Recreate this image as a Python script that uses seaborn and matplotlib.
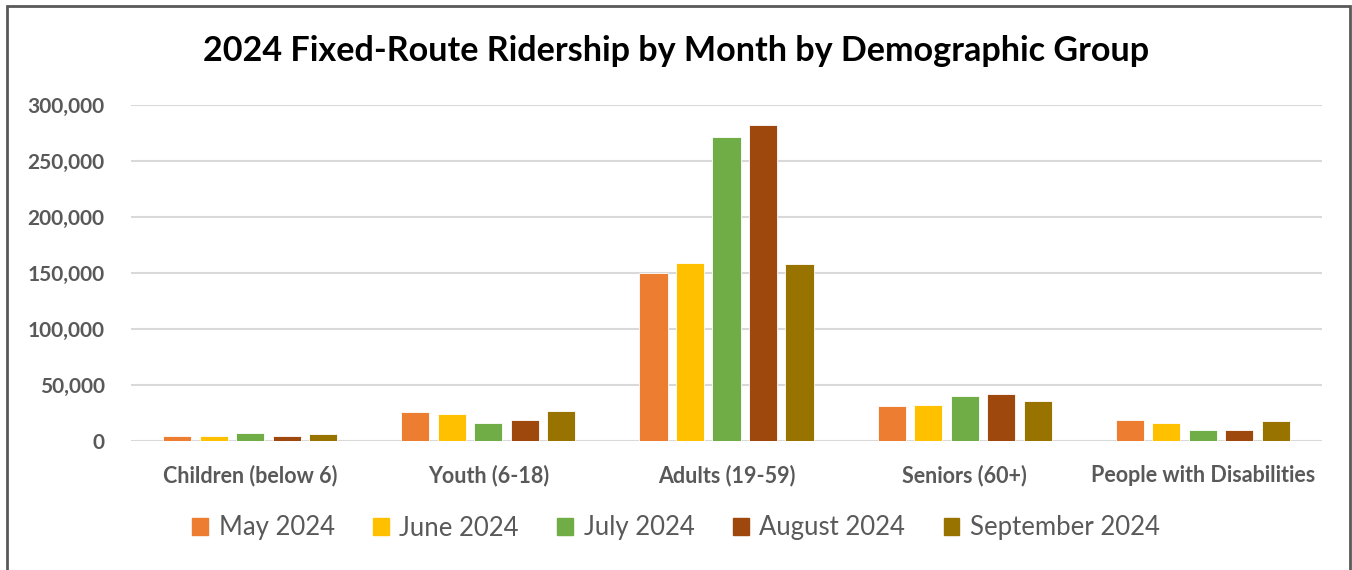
import matplotlib
matplotlib.use("Agg")
import matplotlib.pyplot as plt
import matplotlib.patches as mpatches
from matplotlib.ticker import FuncFormatter, MultipleLocator
import seaborn as sns
import pandas as pd

categories = ["Children (below 6)", "Youth (6-18)", "Adults (19-59)", "Seniors (60+)", "People with Disabilities"]
months = ["May 2024", "June 2024", "July 2024", "August 2024", "September 2024"]
may_2024 = [4700, 25600, 150000, 31300, 18800]
june_2024 = [4500, 24400, 159200, 32400, 16400]
july_2024 = [7100, 16400, 271200, 40500, 9500]
august_2024 = [4700, 18800, 281900, 41700, 9500]
september_2024 = [6000, 26500, 158000, 35700, 17600]
series = [may_2024, june_2024, july_2024, august_2024, september_2024]
colors = ["#ED7D31", "#FFC000", "#70AD47", "#9E480E", "#997300"]
title = "2024 Fixed-Route Ridership by Month by Demographic Group"

rows = []
for m, vals in zip(months, series):
    for c, v in zip(categories, vals):
        rows.append({"Group": c, "Month": m, "Riders": v})
df = pd.DataFrame(rows)

sns.set_theme(style="white")
plt.rcParams["font.family"] = ["Lato", "DejaVu Sans"]

W, H = 1352, 570
fig = plt.figure(figsize=(W / 100, H / 100), dpi=100)
ax = fig.add_axes([131 / W, 1 - 441 / H, (1322 - 131) / W, (441 - 105) / H])

sns.barplot(data=df, x="Group", y="Riders", hue="Month", order=categories,
            hue_order=months, palette=colors, width=0.766, gap=0.23,
            saturation=1, edgecolor="white", linewidth=0.6, ax=ax, legend=False)

ax.set_ylim(0, 300000)
ax.set_xlim(-0.5, 4.5)
ax.yaxis.set_major_locator(MultipleLocator(50000))
ax.yaxis.set_major_formatter(FuncFormatter(lambda v, p: f"{int(v):,}"))
ax.grid(axis="y", color="#D9D9D9", linewidth=1.5, zorder=0)
ax.set_axisbelow(True)
for s in ax.spines.values():
    s.set_visible(False)
ax.set_xlabel("")
ax.set_ylabel("")
ax.tick_params(axis="y", length=0, pad=19, labelsize=15, labelcolor="#595959")
ax.tick_params(axis="x", length=0, pad=17, labelsize=15.5, labelcolor="#595959")
for lbl in ax.get_xticklabels() + ax.get_yticklabels():
    lbl.set_fontweight("bold")

fig.text(0.5, 1 - 51 / H, title, ha="center", va="center", fontsize=24.6,
         fontweight="bold", color="black")

handles = [mpatches.Patch(color=c, label=m) for c, m in zip(colors, months)]
fig.legend(handles=handles, loc="center", bbox_to_anchor=(0.5, 1 - 528 / H), ncol=5,
           frameon=False, fontsize=18.5, labelcolor="#595959", handlelength=0.62,
           handleheight=0.62, handletextpad=0.4, columnspacing=1.5)

border = mpatches.Rectangle((7 / W, -0.05), (1350 - 7) / W, 1.05 - 6 / H,
                            transform=fig.transFigure, fill=False,
                            edgecolor="#595959", linewidth=2, clip_on=False)
fig.patches.append(border)

fig.savefig("out.png", dpi=100)
